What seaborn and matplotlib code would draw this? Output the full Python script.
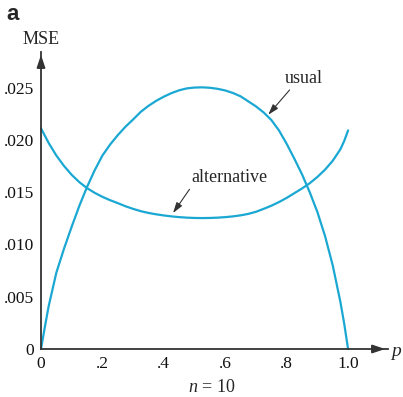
import matplotlib
matplotlib.use("Agg")
import matplotlib.pyplot as plt
import seaborn as sns
import pandas as pd

# values
p_usual = [0, 0.0125, 0.025, 0.05, 0.075, 0.1, 0.125, 0.15, 0.175, 0.2, 0.225,
           0.25, 0.275, 0.3, 0.325, 0.35, 0.375, 0.4, 0.425, 0.45, 0.475, 0.5,
           0.525, 0.55, 0.575, 0.6, 0.625, 0.65, 0.675, 0.7, 0.725, 0.75,
           0.775, 0.8, 0.825, 0.85, 0.875, 0.9, 0.925, 0.95, 0.975, 0.9875, 1.0]
mse_usual = [0, 0.00210, 0.00410, 0.00730, 0.00960, 0.01170, 0.01370, 0.01550,
             0.01710, 0.01850, 0.01955, 0.02045, 0.02125, 0.02195, 0.02268,
             0.02325, 0.02373, 0.02413, 0.02447, 0.02474, 0.02492, 0.02500,
             0.02502, 0.02498, 0.02488, 0.02472, 0.02448, 0.02416, 0.02368,
             0.02320, 0.02262, 0.02190, 0.02090, 0.01962, 0.01820, 0.01670,
             0.01500, 0.01310, 0.01080, 0.00800, 0.00450, 0.00240, 0]

p_alt = [0, 0.0125, 0.025, 0.05, 0.075, 0.1, 0.125, 0.15, 0.175, 0.2, 0.225,
         0.25, 0.275, 0.3, 0.325, 0.35, 0.375, 0.4, 0.425, 0.45, 0.475, 0.5,
         0.525, 0.55, 0.575, 0.6, 0.625, 0.65, 0.675, 0.7, 0.725, 0.75,
         0.775, 0.8, 0.825, 0.85, 0.875, 0.9, 0.925, 0.95, 0.975, 0.9875, 1.0]
mse_alt = [0.02110, 0.02040, 0.01970, 0.01850, 0.01750, 0.01665, 0.01595,
           0.01538, 0.01493, 0.01455, 0.01423, 0.01395, 0.01365, 0.01340,
           0.01318, 0.01301, 0.01288, 0.01277, 0.01268, 0.01261, 0.01256,
           0.01253, 0.01252, 0.01253, 0.01256, 0.01261, 0.01268, 0.01278,
           0.01292, 0.01312, 0.01340, 0.01370, 0.01405, 0.01445, 0.01490,
           0.01535, 0.01585, 0.01645, 0.01715, 0.01800, 0.01910, 0.01990,
           0.02090]

x_ticks = [0, 0.2, 0.4, 0.6, 0.8, 1.0]
x_labels = ["0", ".2", ".4", ".6", ".8", "1.0"]
y_ticks = [0, 0.005, 0.010, 0.015, 0.020, 0.025]
y_labels = ["0", ".005", ".010", ".015", ".020", ".025"]

sns.set_style("white")
plt.rcParams["font.family"] = ["Liberation Serif", "DejaVu Serif"]
plt.rcParams["mathtext.fontset"] = "custom"
plt.rcParams["mathtext.it"] = "Liberation Serif:italic"
plt.rcParams["mathtext.rm"] = "Liberation Serif"

curve_color = "#1aa8d3"
axis_color = "#333333"

df = pd.concat([
    pd.DataFrame({"p": p_usual, "MSE": mse_usual, "est": "usual"}),
    pd.DataFrame({"p": p_alt, "MSE": mse_alt, "est": "alternative"}),
])

fig = plt.figure(figsize=(4.03, 3.97), dpi=100)
ax = fig.add_axes([41 / 403, 48 / 397, 347 / 403, 297 / 397])

sns.lineplot(data=df, x="p", y="MSE", units="est", estimator=None, sort=False,
             color=curve_color, linewidth=1.6, ax=ax, legend=False)
for ln in ax.lines:
    ln.set_clip_on(False)
    ln.set_solid_joinstyle("round")

ax.set_xlim(0, 1.13)
ax.set_ylim(0, 0.0284)

for side in ["top", "right"]:
    ax.spines[side].set_visible(False)
for side in ["left", "bottom"]:
    ax.spines[side].set_color(axis_color)
    ax.spines[side].set_linewidth(1.3)

ax.set_xticks(x_ticks)
ax.set_xticklabels(x_labels)
ax.set_yticks(y_ticks)
ax.set_yticklabels(y_labels)
ax.tick_params(direction="in", length=7, width=1, color=axis_color,
               labelsize=12.5, labelcolor="#111111")
ax.tick_params(axis="x", pad=5)
ax.tick_params(axis="y", pad=5)
ax.set_xlabel("")
ax.set_ylabel("")

# arrow heads on the axes
head = dict(arrowstyle="-|>,head_length=0.75,head_width=0.25",
            color=axis_color, lw=1.3, mutation_scale=10)
ax.annotate("", xy=(1.13, 0), xytext=(1.08, 0), arrowprops=head,
            annotation_clip=False)
ax.annotate("", xy=(0, 0.0284), xytext=(0, 0.0272), arrowprops=head,
            annotation_clip=False)

# labels
fig.text(41 / 403, 1 - 39 / 397, "MSE", ha="center", va="center", fontsize=13)
fig.text(396 / 403, 1 - 351 / 397, "p", ha="center", va="center",
         fontsize=14, style="italic")
fig.text(212 / 403, 1 - 388 / 397, "$n$ = 10", ha="center", va="center",
         fontsize=13)
fig.text(13 / 403, 1 - 14 / 397, "a", ha="center", va="center", fontsize=16,
         fontweight="bold", family=["Liberation Sans"])

arrow = dict(arrowstyle="-|>,head_length=0.8,head_width=0.25", color="#333333",
             lw=0.8, mutation_scale=8, shrinkA=0, shrinkB=0)
ax.annotate("usual", xy=(0.740, 0.0224), xytext=(0.856, 0.0259),
            ha="center", va="center", fontsize=13,
            arrowprops=dict(arrow, relpos=(0.2, 0)))
ax.annotate("alternative", xy=(0.43, 0.0130), xytext=(0.615, 0.0164),
            ha="center", va="center", fontsize=13,
            arrowprops=dict(arrow, relpos=(0.0, 0)))

fig.savefig("out.png", dpi=100)
